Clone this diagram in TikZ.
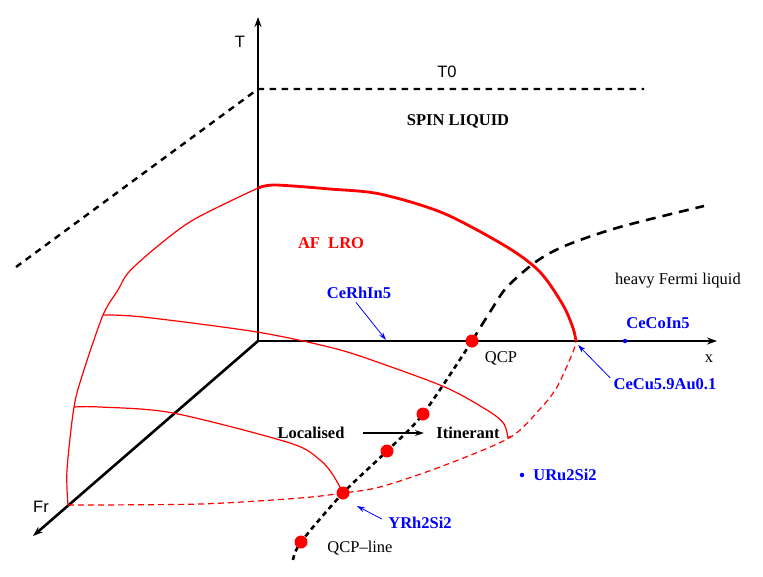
\documentclass[tikz,border=0pt]{standalone}
\usepackage{fontspec}
\setmainfont{Liberation Serif}
\setsansfont{Liberation Sans}
\usetikzlibrary{arrows.meta,positioning,calc}

\tikzset{
  axis/.style={line width=2.6pt,-{Stealth[length=10pt,width=7pt]}},
  afthin/.style={red,line width=1.2pt},
  afthick/.style={red,line width=2.8pt},
  afdash/.style={red,line width=1.2pt,dash pattern=on 6pt off 4pt},
  tzero/.style={line width=2.4pt,dash pattern=on 6.5pt off 5.5pt},
  qcpdash/.style={line width=2.6pt,dash pattern=on 5pt off 4pt},
  fermidash/.style={line width=2.6pt,dash pattern=on 10pt off 7pt},
  qcpdot/.style={circle,fill=red,inner sep=0pt,minimum size=13pt},
  matdot/.style={circle,fill=blue,inner sep=0pt,minimum size=4.5pt},
  material/.style={blue,font=\bfseries\fontsize{16.5}{19}\selectfont},
  txt/.style={font=\fontsize{16.5}{19}\selectfont},
  boldtxt/.style={font=\bfseries\fontsize{16.5}{19}\selectfont},
  axtxt/.style={font=\sffamily\fontsize{16.5}{19}\selectfont},
  pointer/.style={blue,line width=0.8pt,-{Stealth[length=8pt,width=5pt]}},
}

\begin{document}
\begin{tikzpicture}[x=1pt,y=-1pt]
    \useasboundingbox (0,0) rectangle (763,576);
    % axes
    \coordinate (O) at (258,341);
    \coordinate (Ttip) at (258,17);
    \coordinate (xtip) at (717,341);
    \coordinate (Frtip) at (33,536);
    \draw[axis] (O) -- (Ttip);
    \draw[axis] (O) -- (xtip);
    \draw[axis] (O) -- (Frtip);
    \node[axtxt] (tlabel) at (240,42) {T};
    \node[txt] (xlabel) at (709,359) {x};
    \node[axtxt] (frlabel) at (41,507) {Fr};
    % spin liquid scale T0
    \coordinate (Tzero) at (258,89);
    \coordinate (Tzeroright) at (644,89);
    \coordinate (Tzeroleft) at (16,267);
    \draw[tzero] (Tzeroleft) -- (Tzero) -- (Tzeroright);
    \node[axtxt] (tzerolabel) at (447,72) {T0};
    \node[boldtxt] (spin) at (458,121) {SPIN LIQUID};
    % AF boundary
    \coordinate (afT) at (258,188);
    \coordinate (afx) at (576,341);
    \coordinate (afFr) at (68,505);
    \draw[afthick] plot[smooth] coordinates {(afT) (275,185) (330,189) (380,194) (443,213) (507,247) (540,272) (563,305) (573,328) (afx)};
    \draw[afthin] plot[smooth] coordinates {(afT) (193,220) (153,250) (128,273) (118,290) (103,315) (83,373) (74,407) (67,470) (afFr)};
    \draw[afdash] plot[smooth] coordinates {(afFr) (200,504) (300,498) (343,493) (380,487) (440,467) (509,438) (540,409) (557,387) (573,352) (afx)};
    \draw[afthin] plot[smooth] coordinates {(103,315) (143,317) (257,332) (333,348) (380,363) (447,388) (490,412) (504,424) (508,438)} -- (511,436);
    \draw[afthin] plot[smooth] coordinates {(74,407) (100,407) (173,413) (290,443) (320,460) (333,475) (343,493)};
    \node[red,boldtxt] (aflro) at (331,243) {AF\ \ LRO};
    % QCP line
    \coordinate (q0) at (293,560);
    \coordinate (q1) at (301,542);
    \coordinate (q2) at (343,493);
    \coordinate (q3) at (387,451);
    \coordinate (q4) at (423,414);
    \coordinate (qcp) at (472,341);
    \draw[qcpdash] plot[smooth] coordinates {(q0) (q1) (q2) (q3) (q4) (qcp)};
    \draw[fermidash] plot[smooth] coordinates {(qcp) (490,312) (507,287) (537,261) (567,245) (620,227) (704,206)};
    \foreach \p in {q1,q2,q3,q4,qcp}
      \node[qcpdot] (dot\p) at (\p) {};
    \node[txt] (qcplabel) at (501,358) {QCP};
    \node[txt] (qcplinelabel) at (360,548) {QCP\textendash line};
    \node[txt] (fermi) at (678,281) {heavy Fermi liquid};
    % localised to itinerant
    \node[boldtxt] (localised) at (311,433) {Localised};
    \node[boldtxt] (itinerant) at (468,433) {Itinerant};
    \draw[line width=1.3pt,-{Stealth[length=9pt,width=6pt]},shorten <=15pt,shorten >=9pt] (localised) -- (itinerant);
    % materials
    \node[material] (cerhin) at (359,293) {CeRhIn5};
    \coordinate (rhtip) at (386,340);
    \draw[pointer] ([xshift=-3pt]cerhin.south) -- (rhtip);
    \node[matdot] (codot) at (625,341) {};
    \node[material] (cecoin) at (658,323) {CeCoIn5};
    \node[material] (cecu) at (665,384) {CeCu5.9Au0.1};
    \coordinate (cutip) at (578,345);
    \draw[pointer] ([yshift=-3pt]cecu.north west) -- (cutip);
    \node[matdot] (urudot) at (522,475) {};
    \node[material] (uru) at (565,475) {URu2Si2};
    \node[material] (yrh) at (420,523) {YRh2Si2};
    \coordinate (yrhtip) at (357,506);
    \draw[pointer] ([xshift=-3pt,yshift=4pt]yrh.west) -- (yrhtip);
\end{tikzpicture}
\end{document}
